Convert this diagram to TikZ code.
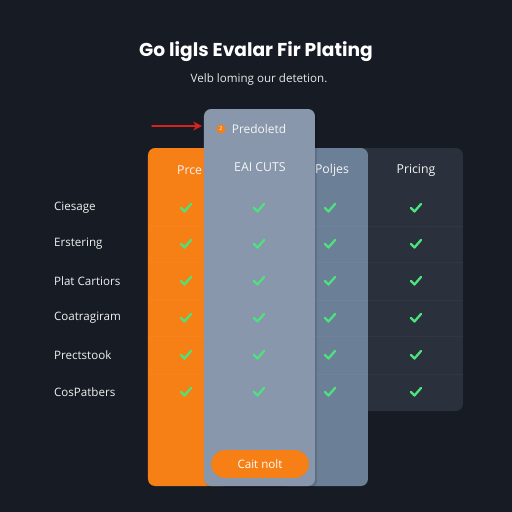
\documentclass[tikz,border=0pt]{standalone}
\usepackage{fontspec}
\setmainfont{Open Sans}
\newfontfamily\titlefont{Poppins}
\usetikzlibrary{arrows.meta,calc}
\definecolor{bgdark}{HTML}{161B24}
\definecolor{orangecol}{HTML}{F67F16}
\definecolor{panelgray}{HTML}{8897AC}
\definecolor{slatecol}{HTML}{6B7F97}
\definecolor{pricecol}{HTML}{2B313C}
\definecolor{checkgreen}{HTML}{4EE27C}
\definecolor{arrowred}{HTML}{D8221E}
\tikzset{
	rowlabel/.style={anchor=west, inner sep=1pt, text=white!88!gray, font=\fontsize{6.6}{7}\selectfont},
	colhead/.style={text=white!92!gray, font=\fontsize{7}{8}\selectfont},
	checkmk/.style={draw=checkgreen, line width=1.3pt, line cap=round, line join=round},
	colbox/.style={rounded corners=4pt},
}
\begin{document}
\begin{tikzpicture}[x=0.02cm, y=-0.02cm, line join=round, line cap=round, >=Stealth]
	\fill[bgdark] (0,0) rectangle (512,512);
	\useasboundingbox (0,0) rectangle (512,512);
	% title
	\node[text=white, font=\titlefont\fontsize{10.6}{12}\selectfont\bfseries] (title) at (256,52) {Go ligls Evalar Fir Plating};
	\node[text=white!82!gray, font=\fontsize{6.6}{8}\selectfont] (subtitle) at (259,79) {Velb loming our detetion.};
	% columns
	\fill[colbox, pricecol] (340,148) rectangle (463,411);
	\fill[colbox, slatecol] (280,148) rectangle (368,486);
	\fill[colbox, orangecol] (148,148) rectangle (230,486);
	\node[colhead, anchor=west, inner sep=1pt] (hprce) at (175,170) {Prce};
	\node[colhead] (hpoljes) at (332,170) {Poljes};
	\node[colhead] (hpricing) at (416,170) {Pricing};
	% faint row rules
	\foreach \y in {226,262,300,336,374}{
		\draw[white, opacity=0.03, line width=0.4pt] (148,\y) -- (463,\y);
	}
	% middle panel
	\fill[black, opacity=0.12] (205,110) [colbox] rectangle (317,488);
	\fill[colbox, panelgray] (204,109) rectangle (315,486);
	\node[circle, fill=orangecol, inner sep=0pt, minimum size=9pt*0.567, text=white, font=\fontsize{3}{3}\selectfont] (badge) at (221,129) {2};
	\node[colhead, font=\fontsize{6.8}{8}\selectfont] (hpred) at (259,129) {Predoletd};
	\node[colhead] (heai) at (260,167) {EAI CUTS};
	% arrow
	\coordinate (arrowtail) at (152,126);
	\coordinate (arrowhead) at (202,126);
	\draw[->, arrowred, line width=1.1pt, >={Stealth[length=5pt,width=5pt]}] (arrowtail) -- (arrowhead);
	% row labels and checks
	\foreach \i/\t/\y in {1/Ciesage/208,2/Erstering/244,3/Plat Cartiors/281,4/Coatragiram/318,5/Prectstook/355,6/CosPatbers/392}{
		\node[rowlabel] (row\i) at (52,\y) {\t};
		\foreach \x/\c in {186/a,259/b,330/c,416/d}{
			\path (\x,\y) coordinate (ck\c\i);
			\draw[checkmk] ($(ck\c\i)+(-5,0)$) -- ($(ck\c\i)+(-1.5,3.5)$) -- ($(ck\c\i)+(5,-4)$);
		}
	}
	% button
	\node[fill=orangecol, rounded corners=14*0.567pt, minimum width=98*0.567pt, minimum height=28*0.567pt, text=white, font=\fontsize{6.6}{7}\selectfont] (cta) at (260,464) {Cait nolt};
\end{tikzpicture}
\end{document}
